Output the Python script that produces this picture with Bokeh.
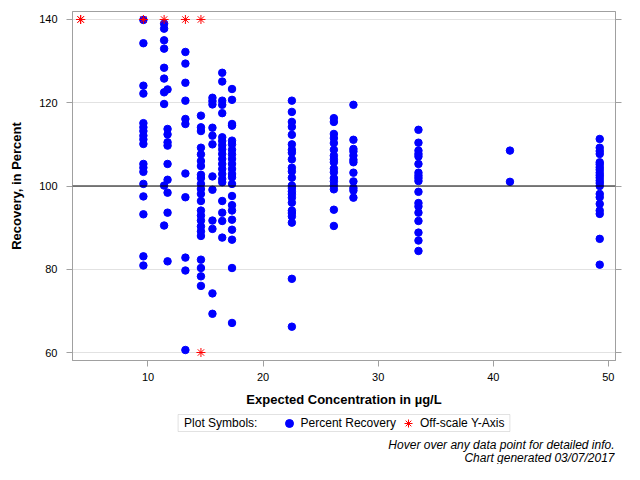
import numpy as np
from bokeh.plotting import figure
from bokeh.layouts import column
from bokeh.models import (ColumnDataSource, LinearAxis, Span, Legend, LegendItem,
                          FixedTicker, Range1d, Label, BoxAnnotation, HoverTool)
from bokeh.embed import file_html
from bokeh.resources import INLINE

# ---- data (expected concentration in ug/L, percent recovery) ----
conc_levels = [9.6, 11.4, 11.7, 13.25, 14.6, 15.6, 16.45, 17.3, 22.5, 26.15, 27.85, 33.5, 41.45, 49.25]
rec_9_6 = [139.9, 134.3, 124.1, 122.2, 115.1, 114.1, 113.2, 112.1, 111.2, 110.1, 105.3, 104.4,
           103.4, 100.5, 97.5, 93.2, 83.1, 80.9]
rec_11_4 = [139.0, 137.8, 135.0, 133.0, 128.4, 125.8, 122.5, 119.7, 100.1, 90.5]
rec_11_7 = [123.2, 113.7, 112.4, 110.5, 109.7, 105.3, 101.5, 98.4, 93.6, 81.9]
rec_13_2 = [132.2, 129.4, 124.8, 120.5, 116.1, 114.9, 103.0, 97.3, 82.8, 79.7, 60.6]
rec_14_6 = [116.9, 114.1, 113.2, 109.2, 107.6, 106.0, 104.8, 102.7, 101.9, 100.5, 99.3, 98.1,
            96.4, 94.1, 92.9, 91.7, 90.3, 89.1, 88.0, 82.3, 80.3, 78.3, 76.0]
rec_15_6 = [121.2, 120.4, 119.6, 114.0, 112.1, 110.0, 102.3, 99.1, 91.7, 89.7, 74.2, 69.3]
rec_16_4 = [127.2, 125.1, 120.5, 119.5, 117.5, 111.7, 110.8, 109.8, 108.8, 107.7, 106.5, 105.3,
            104.1, 102.9, 101.7, 100.9, 96.4, 93.6, 91.6, 87.6]
rec_17_3 = [123.3, 120.7, 114.9, 114.5, 110.9, 110.0, 108.7, 107.6, 106.5, 105.3, 104.1, 102.9,
            102.1, 100.5, 97.6, 95.4, 94.1, 91.9, 89.5, 87.1, 80.3, 67.1]
rec_22_5 = [120.5, 117.8, 115.4, 114.2, 112.3, 110.0, 108.7, 108.0, 106.4, 104.4, 103.5, 102.0,
            100.1, 99.5, 98.7, 98.0, 97.2, 96.0, 94.1, 93.5, 92.7, 91.2, 77.7, 66.2]
rec_26_1 = [116.3, 115.4, 112.5, 111.5, 110.3, 108.7, 107.3, 106.4, 105.7, 104.2, 103.3, 101.9,
            101.1, 100.1, 99.2, 94.3, 90.4]
rec_27_8 = [119.5, 111.1, 108.9, 108.3, 107.3, 106.3, 105.7, 103.2, 101.1, 99.5, 98.9, 97.2]
rec_33_5 = [113.5, 110.4, 108.5, 107.7, 107.1, 105.3, 103.2, 102.5, 101.9, 101.2, 98.6, 95.9,
            95.1, 93.6, 91.6, 88.8, 86.9, 84.4]
rec_41_5 = [108.5, 101.0]
rec_49_3 = [111.3, 109.2, 108.4, 107.7, 105.7, 105.2, 104.5, 103.9, 103.2, 102.6, 102.0, 101.3,
            100.7, 100.0, 98.1, 97.3, 95.7, 94.1, 93.3, 87.3, 81.1]
recovery_lists = [rec_9_6, rec_11_4, rec_11_7, rec_13_2, rec_14_6, rec_15_6, rec_16_4, rec_17_3,
                  rec_22_5, rec_26_1, rec_27_8, rec_33_5, rec_41_5, rec_49_3]

# off-scale values (plotted at the axis limits)
offscale_conc = [4.15, 4.15, 9.6, 11.4, 13.25, 14.6, 14.6]
offscale_rec = [140, 140, 140, 140, 140, 140, 60]

x_ticks = [10, 20, 30, 40, 50]
y_ticks = [60, 80, 100, 120, 140]
ref_value = 100

legend_title = "Plot Symbols:"
legend_labels = ["Percent Recovery", "Off-scale Y-Axis"]
footnotes = ["Hover over any data point for detailed info.", "Chart generated 03/07/2017"]

FONT = "'Liberation Sans', Arial, sans-serif"
GRAY = "#a0a0a0"
BLUE = "#0000FF"
RED = "#FF0000"

xs, ys = [], []
for c, vals in zip(conc_levels, recovery_lists):
    xs += [c] * len(vals)
    ys += vals
dots = ColumnDataSource(dict(x=xs, y=ys))
stars = ColumnDataSource(dict(x=offscale_conc, y=offscale_rec))

# ---------------- main plot ----------------
p = figure(width=624, height=412, output_backend="svg", toolbar_location=None,
           x_range=Range1d(3.44, 50.62), y_range=Range1d(58.08, 141.92),
           min_border_left=72, min_border_right=7, min_border_top=11, min_border_bottom=52)
p.background_fill_color = "white"
p.border_fill_color = "white"
p.outline_line_color = GRAY

p.xgrid.visible = False
p.ygrid.grid_line_color = "#e2e2e2"
p.ygrid.ticker = FixedTicker(ticks=y_ticks)

for ax in (p.xaxis[0], p.yaxis[0]):
    ax.axis_line_color = GRAY
    ax.major_tick_line_color = GRAY
    ax.minor_tick_line_color = None
    ax.major_tick_out = 6
    ax.major_tick_in = 0
    ax.major_label_text_font = FONT
    ax.major_label_text_font_size = "11px"
    ax.major_label_text_color = "black"
    ax.axis_label_text_font = FONT
    ax.axis_label_text_font_size = "13px"
    ax.axis_label_text_font_style = "bold"
    ax.axis_label_text_color = "black"

p.xaxis[0].ticker = FixedTicker(ticks=x_ticks)
p.yaxis[0].ticker = FixedTicker(ticks=y_ticks)
p.xaxis[0].axis_label = "Expected Concentration in µg/L"
p.yaxis[0].axis_label = "Recovery, in Percent"
p.xaxis[0].major_label_standoff = 6
p.xaxis[0].axis_label_standoff = 8
p.yaxis[0].major_label_standoff = 9
p.yaxis[0].axis_label_standoff = 12

ra = LinearAxis(ticker=FixedTicker(ticks=y_ticks), axis_line_color=GRAY,
                major_tick_line_color=GRAY, minor_tick_line_color=None,
                major_tick_out=6, major_tick_in=0,
                major_label_overrides={t: " " for t in y_ticks},
                major_label_text_font_size="1px", major_label_standoff=0)
p.add_layout(ra, "right")

p.add_layout(Span(location=ref_value, dimension="width", line_color="black", line_width=1))

r_dots = p.scatter("x", "y", source=dots, marker="circle", size=7.5,
                   fill_color=BLUE, line_color=BLUE)
r_stars = p.scatter("x", "y", source=stars, marker="asterisk", size=9,
                    line_color=RED, line_width=1)
p.add_tools(HoverTool(renderers=[r_dots],
                      tooltips=[("Expected (µg/L)", "@x"), ("Recovery (%)", "@y")]))

# ---------------- legend + footnotes strip ----------------
# the strip's frame is aligned with the main frame (x 72..617); ranges are in page pixels
q = figure(width=624, height=52, output_backend="svg", toolbar_location=None,
           x_range=Range1d(72, 617), y_range=Range1d(464, 412),
           x_axis_type=None, y_axis_type=None,
           min_border_left=72, min_border_right=7, min_border_top=0, min_border_bottom=0)
q.grid.visible = False
q.outline_line_color = None
q.background_fill_color = "white"
q.border_fill_color = "white"

q.add_layout(BoxAnnotation(left=178, right=511, top=414, bottom=431,
                           fill_color="white", fill_alpha=1,
                           line_color=GRAY, line_width=1))
q.add_layout(Label(x=184, y=422.5, text=legend_title, text_baseline="middle",
                   text_align="left", text_font=FONT, text_font_size="12px",
                   text_color="black"))

k_dot = q.scatter(x=[np.nan], y=[np.nan], marker="circle", size=8,
                  fill_color=BLUE, line_color=BLUE)
k_star = q.scatter(x=[np.nan], y=[np.nan], marker="asterisk", size=9,
                   line_color=RED, line_width=1)
legend = Legend(items=[LegendItem(label=legend_labels[0], renderers=[k_dot]),
                       LegendItem(label=legend_labels[1], renderers=[k_star])],
                orientation="horizontal", location=(206.6, 31.5),
                glyph_width=20, glyph_height=20, label_height=20, label_standoff=2,
                spacing=2, padding=0, margin=0,
                label_text_font=FONT, label_text_font_size="12px", label_text_color="black",
                border_line_color=None, background_fill_alpha=0)
q.add_layout(legend, "center")

for txt, yy in zip(footnotes, [444, 457]):
    q.add_layout(Label(x=616, y=yy, text=txt, text_align="right", text_baseline="middle",
                       text_font=FONT, text_font_size="12px", text_font_style="italic",
                       text_color="black"))

layout = column(p, q, spacing=0)
open("out.html", "w").write(file_html(layout, INLINE))
